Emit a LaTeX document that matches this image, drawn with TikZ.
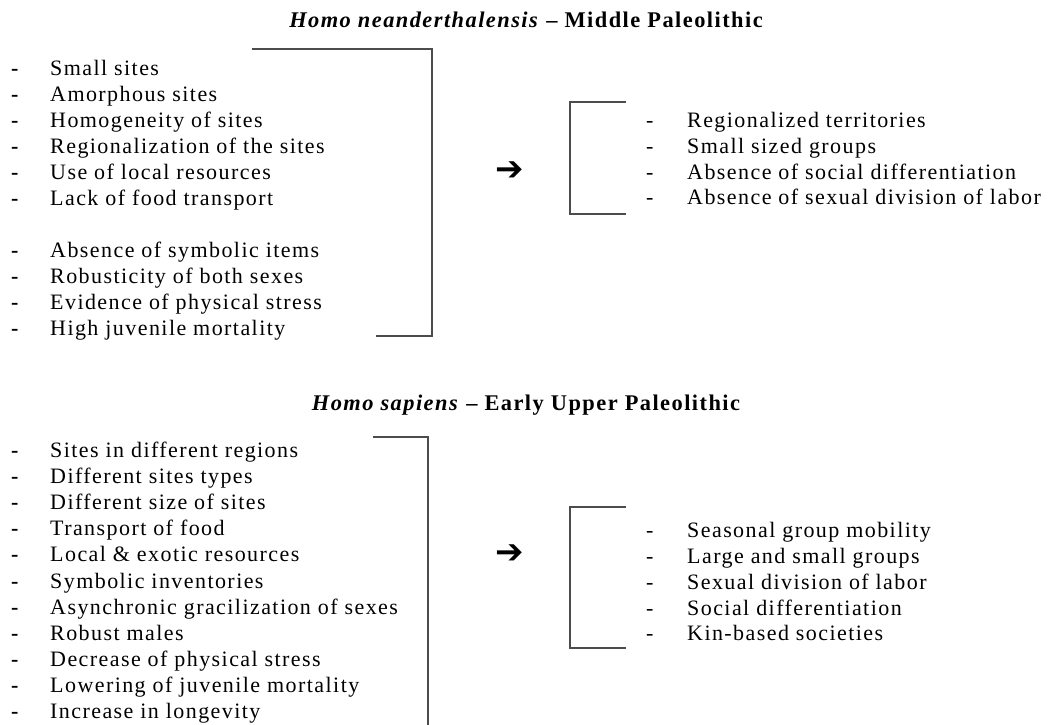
\documentclass[tikz,border=0pt]{standalone}
\usepackage{fontspec}
\setmainfont[LetterSpace=6.5]{Liberation Serif}
\newfontfamily\arrowfont{DejaVu Sans}
\newcommand{\litem}[1]{\makebox[39pt][l]{\textbf{-}}#1}
\newcommand{\ritem}[1]{\makebox[41pt][l]{-}#1}

\begin{document}
\begin{tikzpicture}[x=1pt,y=-1pt,
	txt/.style={anchor=base west,inner sep=0pt,font=\fontsize{22}{25}\selectfont},
	ttl/.style={anchor=base,inner sep=0pt,font=\fontsize{22.4}{24}\selectfont\bfseries},
	arr/.style={inner sep=0pt,font=\arrowfont\fontsize{34}{36}\selectfont},
	brk/.style={line width=1.6pt,draw=black!70}]
				\useasboundingbox (0,0) rectangle (1051,724);
				% Middle Paleolithic
				\path 
				(526,27) node(t1) [ttl] {\textit{Homo neanderthalensis} -- Middle Paleolithic}
				(11,75) node(a1) [txt] {\litem{Small sites}}
				(11,101) node(a2) [txt] {\litem{Amorphous sites}}
				(11,127) node(a3) [txt] {\litem{Homogeneity of sites}}
				(11,153) node(a4) [txt] {\litem{Regionalization of the sites}}
				(11,179) node(a5) [txt] {\litem{Use of local resources}}
				(11,205) node(a6) [txt] {\litem{Lack of food transport}}
				(11,257) node(a7) [txt] {\litem{Absence of symbolic items}}
				(11,283) node(a8) [txt] {\litem{Robusticity of both sexes}}
				(11,309) node(a9) [txt] {\litem{Evidence of physical stress}}
				(11,335) node(a10) [txt] {\litem{High juvenile mortality}}
				(510,171) node(p1) [arr] {➔}
				(646,127) node(b1) [txt] {\ritem{Regionalized territories}}
				(646,153) node(b2) [txt] {\ritem{Small sized groups}}
				(646,179) node(b3) [txt] {\ritem{Absence of social differentiation}}
				(646,204) node(b4) [txt] {\ritem{Absence of sexual division of labor}};
				\coordinate (ka) at (252,49);
				\coordinate (kb) at (432,49);
				\coordinate (kc) at (432,336);
				\coordinate (kd) at (376,336);
				\coordinate (ke) at (626,102);
				\coordinate (kf) at (570,102);
				\coordinate (kg) at (570,214);
				\coordinate (kh) at (626,214);
				\draw[brk] (ka) -- (kb) -- (kc) -- (kd);
				\draw[brk] (ke) -- (kf) -- (kg) -- (kh);
				% Early Upper Paleolithic
				\path 
				(526,410) node(t2) [ttl] {\textit{Homo sapiens} -- Early Upper Paleolithic}
				(11,457) node(c1) [txt] {\litem{Sites in different regions}}
				(11,483) node(c2) [txt] {\litem{Different sites types}}
				(11,509) node(c3) [txt] {\litem{Different size of sites}}
				(11,535) node(c4) [txt] {\litem{Transport of food}}
				(11,561) node(c5) [txt] {\litem{Local \& exotic resources}}
				(11,588) node(c6) [txt] {\litem{Symbolic inventories}}
				(11,614) node(c7) [txt] {\litem{Asynchronic gracilization of sexes}}
				(11,640) node(c8) [txt] {\litem{Robust males}}
				(11,666) node(c9) [txt] {\litem{Decrease of physical stress}}
				(11,692) node(c10) [txt] {\litem{Lowering of juvenile mortality}}
				(11,718) node(c11) [txt] {\litem{Increase in longevity}}
				(510,554) node(p2) [arr] {➔}
				(646,537) node(d1) [txt] {\ritem{Seasonal group mobility}}
				(646,563) node(d2) [txt] {\ritem{Large and small groups}}
				(646,589) node(d3) [txt] {\ritem{Sexual division of labor}}
				(646,615) node(d4) [txt] {\ritem{Social differentiation}}
				(646,640) node(d5) [txt] {\ritem{Kin-based societies}};
				\coordinate (ma) at (373,437);
				\coordinate (mb) at (428,437);
				\coordinate (mc) at (428,730);
				\coordinate (me) at (626,507);
				\coordinate (mf) at (570,507);
				\coordinate (mg) at (570,648);
				\coordinate (mh) at (626,648);
				\draw[brk] (ma) -- (mb) -- (mc);
				\draw[brk] (me) -- (mf) -- (mg) -- (mh);
			\end{tikzpicture}
\end{document}
